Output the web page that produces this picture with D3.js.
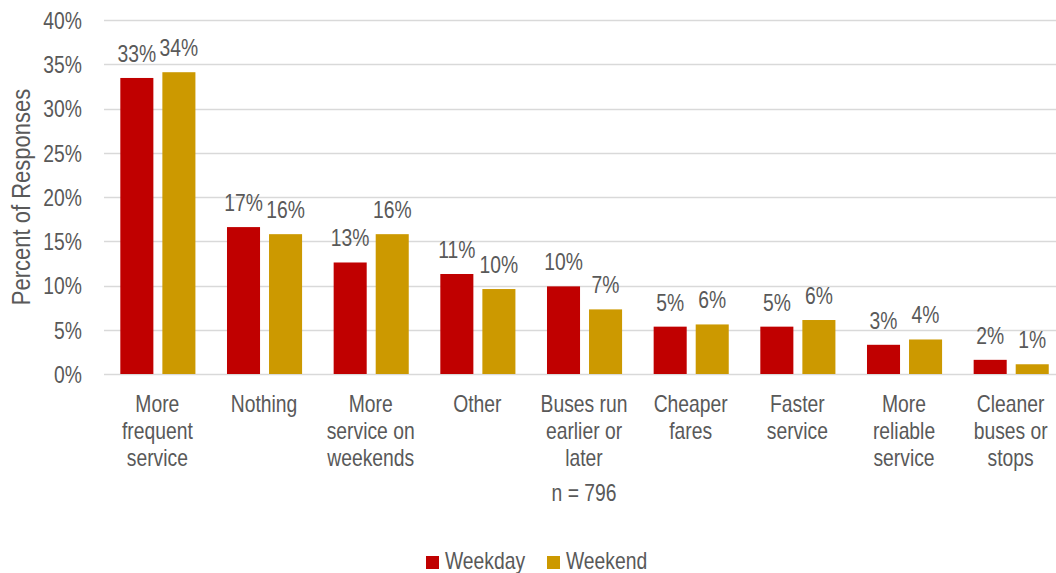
<!DOCTYPE html>
<html>
<head>
<meta charset="utf-8">
<script src="https://cdn.jsdelivr.net/npm/d3@7"></script>
<style>
  html, body { margin: 0; padding: 0; background: #fff; }
  svg { display: block; }
  text { font-family: "Liberation Sans", Arial, sans-serif; fill: #595959; }
</style>
</head>
<body>
<svg id="chart" width="1056" height="573"></svg>
<script>
const categories = [
  "More\nfrequent\nservice",
  "Nothing",
  "More\nservice on\nweekends",
  "Other",
  "Buses run\nearlier or\nlater",
  "Cheaper\nfares",
  "Faster\nservice",
  "More\nreliable\nservice",
  "Cleaner\nbuses or\nstops"
];
const seriesNames = ["Weekday", "Weekend"];
const weekday = [33.45, 16.6, 12.6, 11.3, 9.9, 5.35, 5.35, 3.3, 1.6];
const weekend = [34.1, 15.8, 15.8, 9.6, 7.3, 5.6, 6.1, 3.9, 1.1];
const yTicks = [0, 5, 10, 15, 20, 25, 30, 35, 40];
const yTitle = "Percent of Responses";
const note = "n = 796";
const colors = ["#C00000", "#CC9900"];

const svg = d3.select("#chart");
const W = 1056, H = 573;
const plotLeft = 104, plotRight = 1064, plotTop = 20, plotBottom = 374;
const SX = 0.84;      // horizontal condensing to emulate a narrow face
const FS = 23;

function placeText(sel, x, y, sx) {
  return sel.attr("transform", `translate(${x},${y}) scale(${sx || SX},1)`).attr("x", 0).attr("y", 0);
}

const x0 = d3.scaleBand().domain(categories).range([plotLeft, plotRight]).paddingInner(0).paddingOuter(0);
const bw = x0.bandwidth();
const x1 = d3.scaleBand().domain(seriesNames).range([bw * 0.153, bw * 0.857]).paddingInner(0.214).paddingOuter(0);
const y = d3.scaleLinear().domain([0, 40]).range([plotBottom, plotTop]);

// gridlines
svg.append("g").selectAll("line").data(yTicks).join("line")
  .attr("x1", plotLeft).attr("x2", W)
  .attr("y1", d => Math.round(y(d)) + 0.5).attr("y2", d => Math.round(y(d)) + 0.5)
  .attr("stroke", "#D9D9D9").attr("stroke-width", 1.5);

// y axis labels
const yAxis = d3.axisLeft(y).tickValues(yTicks).tickFormat(d => d + "%").tickSize(0).tickPadding(0);
const gy = svg.append("g").attr("transform", `translate(82,0)`).call(yAxis);
gy.select(".domain").remove();
gy.selectAll("text")
  .attr("font-size", FS).attr("fill", "#595959")
  .attr("x", 0).attr("dy", "0.36em")
  .attr("transform", `scale(${SX},1)`)
  .style("font-family", '"Liberation Sans", Arial, sans-serif');

// y title
svg.append("text")
  .attr("transform", `translate(30,${(plotTop + plotBottom) / 2}) rotate(-90) scale(0.88,1)`)
  .attr("text-anchor", "middle")
  .attr("font-size", 25)
  .text(yTitle);

// bars
const data = categories.map((c, i) => ({ cat: c, vals: [
  { s: seriesNames[0], v: weekday[i], k: 0 },
  { s: seriesNames[1], v: weekend[i], k: 1 }
]}));

const groups = svg.append("g").selectAll("g").data(data).join("g")
  .attr("transform", d => `translate(${x0(d.cat)},0)`);

groups.selectAll("rect").data(d => d.vals).join("rect")
  .attr("x", d => x1(d.s))
  .attr("width", x1.bandwidth())
  .attr("y", d => y(d.v))
  .attr("height", d => y(0) - y(d.v))
  .attr("fill", d => colors[d.k]);

groups.selectAll("text.lbl").data(d => d.vals).join("text")
  .attr("class", "lbl")
  .attr("text-anchor", "middle")
  .attr("font-size", FS)
  .attr("transform", d => `translate(${x1(d.s) + x1.bandwidth() / 2},${y(d.v) - 16}) scale(${SX},1)`)
  .text(d => Math.round(d.v) + "%");

// category labels
const xAxisG = svg.append("g");
categories.forEach(c => {
  const lines = c.split("\n");
  const t = xAxisG.append("text")
    .attr("text-anchor", "middle")
    .attr("font-size", FS);
  placeText(t, x0(c) + bw / 2, 412);
  lines.forEach((ln, j) => {
    t.append("tspan").attr("x", 0).attr("y", j * 27).text(ln);
  });
});

// note
placeText(svg.append("text"), (plotLeft + plotRight) / 2, 501)
  .attr("text-anchor", "middle")
  .attr("font-size", FS)
  .text(note);

// legend
const legendX = [426, 547];
const lg = svg.append("g");
seriesNames.forEach((s, i) => {
  lg.append("rect").attr("x", legendX[i]).attr("y", 556).attr("width", 13).attr("height", 13).attr("fill", colors[i]);
  placeText(lg.append("text"), legendX[i] + 19, 569).attr("font-size", FS).text(s);
});
</script>
</body>
</html>
